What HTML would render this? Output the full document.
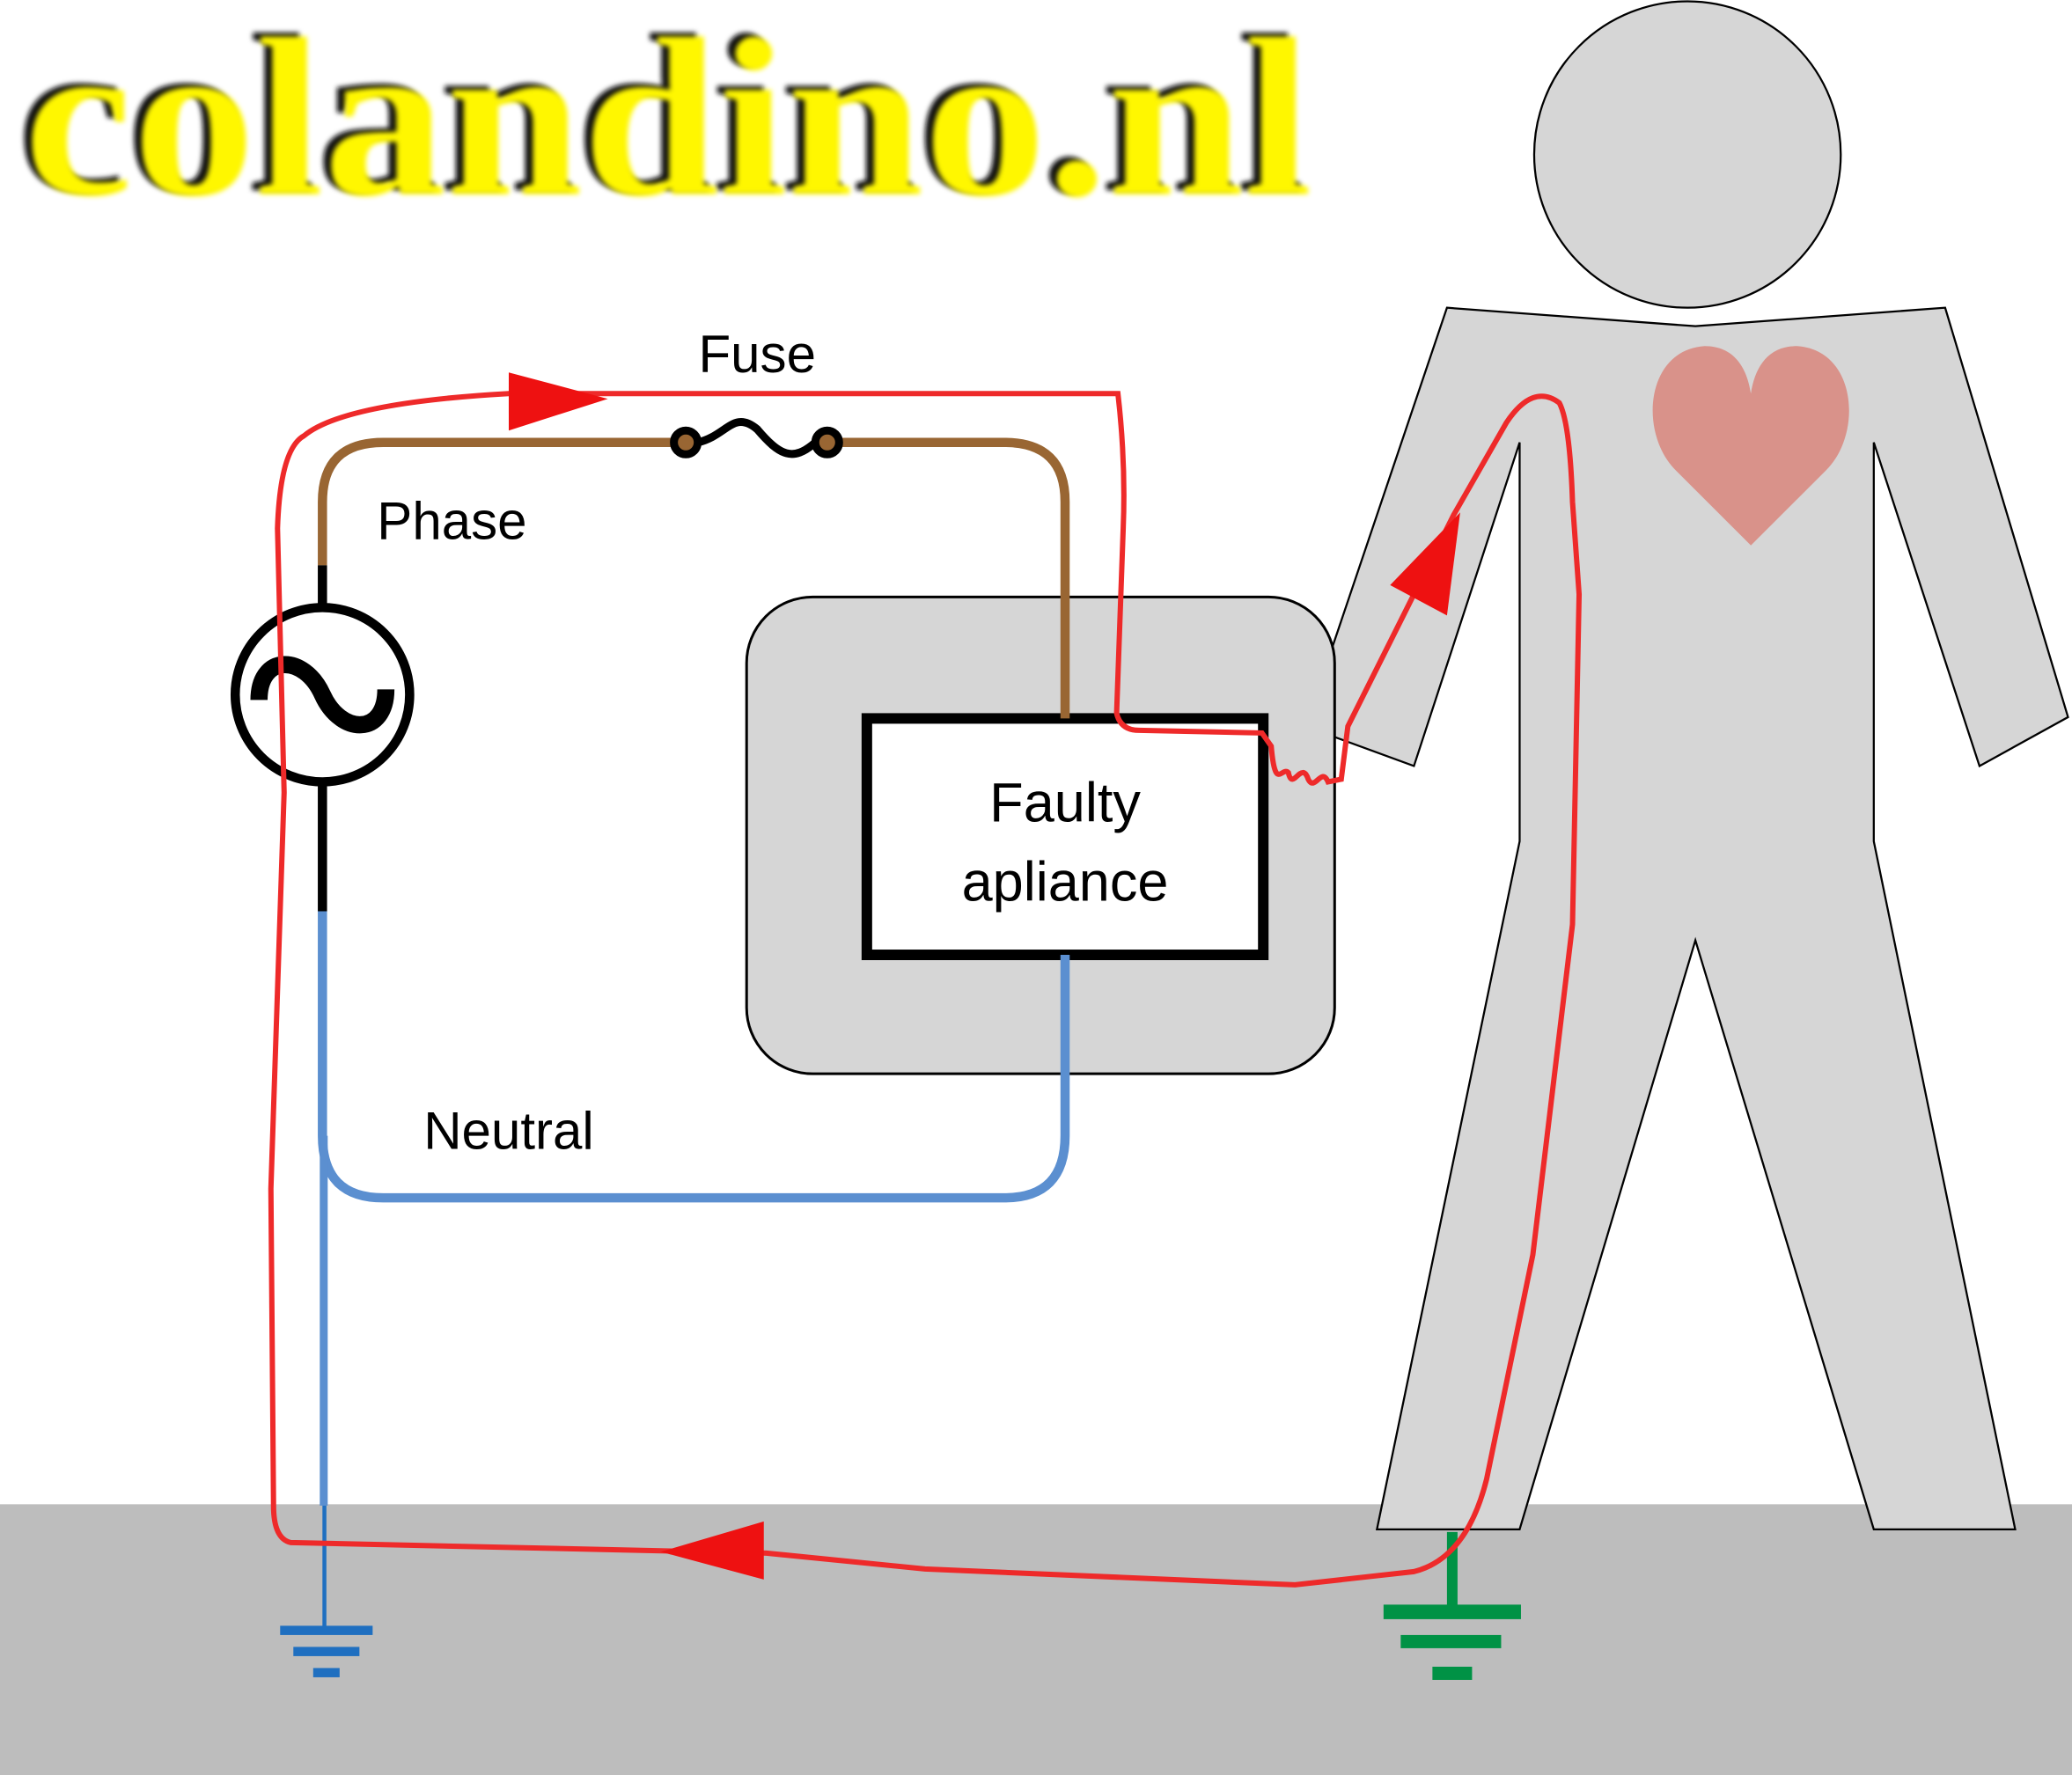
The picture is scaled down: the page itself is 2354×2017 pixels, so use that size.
<!DOCTYPE html>
<html><head><style>html,body{margin:0;padding:0;background:#fff;}svg{display:block;}</style></head>
<body>
<svg width="2354" height="2017" viewBox="0 0 1568 1344" preserveAspectRatio="none" xmlns="http://www.w3.org/2000/svg">
<defs><filter id="b" x="-5%" y="-5%" width="110%" height="110%"><feGaussianBlur stdDeviation="2"/></filter></defs>
<rect x="0" y="1139" width="1568" height="205" fill="#bdbdbd"/>
<g font-family="Liberation Serif, serif" font-weight="bold" font-size="172">
<text x="12" y="144" textLength="975" lengthAdjust="spacingAndGlyphs" fill="#111" filter="url(#b)">colandino.nl</text>
<text x="18" y="147" textLength="975" lengthAdjust="spacingAndGlyphs" fill="#fff700" filter="url(#b)">colandino.nl</text>
</g>
<circle cx="1277" cy="117" r="116" fill="#d6d6d6" stroke="#000" stroke-width="1.5"/>
<polygon points="1095,233 1283,247 1472,233 1565,543 1498,580 1418,335 1418,637 1525,1158 1418,1158 1283,712 1150,1158 1042,1158 1150,637 1150,335 1070,580 988,550" fill="#d6d6d6" stroke="#000" stroke-width="1.5"/>
<path d="M1325,413 L1268,356 C1240,328 1245,265 1290,262 C1312,262 1322,278 1325,298 C1328,278 1338,262 1360,262 C1405,265 1410,328 1382,356 Z" fill="#d9928a"/>
<rect x="565" y="452" width="445" height="361" rx="50" fill="#d6d6d6" stroke="#000" stroke-width="2"/>
<rect x="656" y="544" width="300" height="179" fill="#fff" stroke="#000" stroke-width="8"/>
<g font-family="Liberation Sans, sans-serif" font-size="42" fill="#000" text-anchor="middle">
<text x="806" y="622">Faulty</text><text x="806" y="682">apliance</text>
<text x="573" y="282" font-size="40">Fuse</text>
<text x="342" y="408" font-size="40">Phase</text>
<text x="385" y="870" font-size="40">Neutral</text>
</g>
<path d="M244,428 L244,380 Q244,335 290,335 L519,335 M626,335 L760,335 Q806,335 806,380 L806,544" fill="none" stroke="#996633" stroke-width="7"/>
<circle cx="519" cy="335" r="9" fill="#996633" stroke="#000" stroke-width="6"/>
<circle cx="626" cy="335" r="9" fill="#996633" stroke="#000" stroke-width="6"/>
<path d="M528,335 C550,330 555,310 573,325 C590,345 600,350 617,335" fill="none" stroke="#000" stroke-width="6"/>
<path d="M244,428 L244,460 M244,592 L244,690" stroke="#000" stroke-width="7"/>
<circle cx="244" cy="526" r="66" fill="#fff" stroke="#000" stroke-width="7"/>
<path d="M196,530 C196,495 230,495 244,526 C258,557 292,557 292,522" fill="none" stroke="#000" stroke-width="13"/>
<path d="M244,690 L244,860 Q244,907 290,907 L760,907 Q806,907 806,860 L806,723" fill="none" stroke="#5b8fd0" stroke-width="7"/>
<path d="M245,860 L245,1140" stroke="#5b8fd0" stroke-width="6"/>
<g fill="#1f6fc0"><rect x="244" y="1140" width="3" height="93"/><rect x="212" y="1231" width="70" height="7"/><rect x="222" y="1247" width="50" height="7"/><rect x="237" y="1263" width="20" height="7"/></g>
<g fill="#009245"><rect x="1095" y="1160" width="8" height="58"/><rect x="1047" y="1215" width="104" height="11"/><rect x="1060" y="1238" width="76" height="10"/><rect x="1084" y="1262" width="30" height="10"/></g>
<path d="M385,298 L846,298 Q852,350 850,400 L845,540 Q848,553 862,553 L955,555 L962,565 C965,600 970,580 975,585 C978,600 985,575 990,590 C995,600 1000,580 1005,592 L1015,590 L1020,550 L1060,470 L1100,390 L1140,320 Q1160,290 1180,305 Q1188,320 1190,380 L1195,450 L1190,700 L1160,950 L1125,1120 Q1110,1180 1070,1190 L980,1200 L700,1188 L580,1176 L220,1168 Q207,1165 207,1140 L205,900 L215,600 L210,400 Q212,340 230,330 Q260,305 385,298 Z" fill="none" stroke="#ee2a2a" stroke-width="4"/>
<polygon points="385,282 460,302 385,326" fill="#ee1111"/>
<polygon points="578,1152 500,1175 578,1196" fill="#ee1111"/>
<polygon points="1052,443 1105,388 1095,466" fill="#ee1111"/>
</svg>
</body></html>
